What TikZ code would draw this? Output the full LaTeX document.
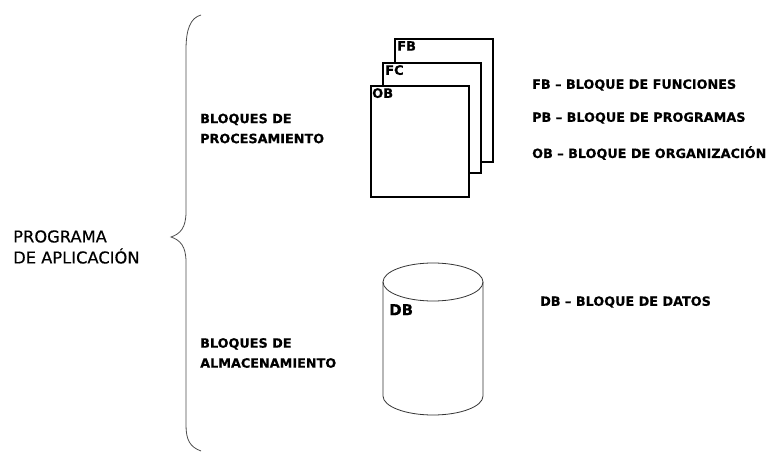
\documentclass[tikz,border=0pt]{standalone}
\usepackage{fontspec}
\setmainfont{DejaVu Sans}
\newfontfamily\heavyf[FakeBold=0.4]{DejaVu Sans}
\newfontfamily\regf[FakeBold=0.45]{DejaVu Sans}
\usetikzlibrary{shapes.geometric}
\begin{document}
\begin{tikzpicture}[x=1pt,y=-1pt,
  lbl/.style={font=\heavyf\bfseries\fontsize{12.8}{20}\selectfont, anchor=west, inner sep=0pt, align=left},
  big/.style={font=\regf\fontsize{16.3}{21}\selectfont, anchor=west, inner sep=0pt, align=left},
  page/.style={draw=black, line width=1.1pt, fill=white},
  tag/.style={font=\heavyf\bfseries\fontsize{13}{15}\selectfont, anchor=north west, inner sep=0pt}]
\useasboundingbox (0,0) rectangle (776,454);
% brace
\draw[line width=0.8pt, black!70] (201,15) .. controls (190,18) and (186,30) .. (186,50) -- (186,212)
  .. controls (186,228) and (180,234) .. (171,237) .. controls (180,240) and (186,246) .. (186,262)
  -- (186,425) .. controls (186,440) and (190,447) .. (201,451);
\node[big] (prog) at (13,247) {PROGRAMA\\DE APLICACIÓN};
\node[lbl] (proc) at (200,128.5) {BLOQUES DE\\PROCESAMIENTO};
\node[lbl] (alm) at (200,353) {BLOQUES DE\\ALMACENAMIENTO};
% stacked pages
\draw[page] (395,39) rectangle (493,162);
\node[tag] (fb) at (397,41) {FB};
\draw[page] (383,63) rectangle (481,173);
\node[tag] (fc) at (385,65) {FC};
\draw[page] (371,86) rectangle (469,197);
\node[tag] (ob) at (372,88) {OB};
% legend
\node[lbl] (l1) at (532,85) {FB – BLOQUE DE FUNCIONES};
\node[lbl] (l2) at (532,118) {PB – BLOQUE DE PROGRAMAS};
\node[lbl] (l3) at (532,153) {OB – BLOQUE DE ORGANIZACIÓN};
% cylinder
\draw[line width=0.8pt, black!80] (383,282) -- (383,396) arc[start angle=180, end angle=0, x radius=50, y radius=19] -- (483,282);
\draw[line width=0.8pt, black!80] (433,282) ellipse[x radius=50, y radius=19];
\node[tag, font=\heavyf\bfseries\fontsize{15}{17}\selectfont] (db) at (389,304) {DB};
\node[lbl] (l4) at (540,302) {DB – BLOQUE DE DATOS};
\end{tikzpicture}
\end{document}
